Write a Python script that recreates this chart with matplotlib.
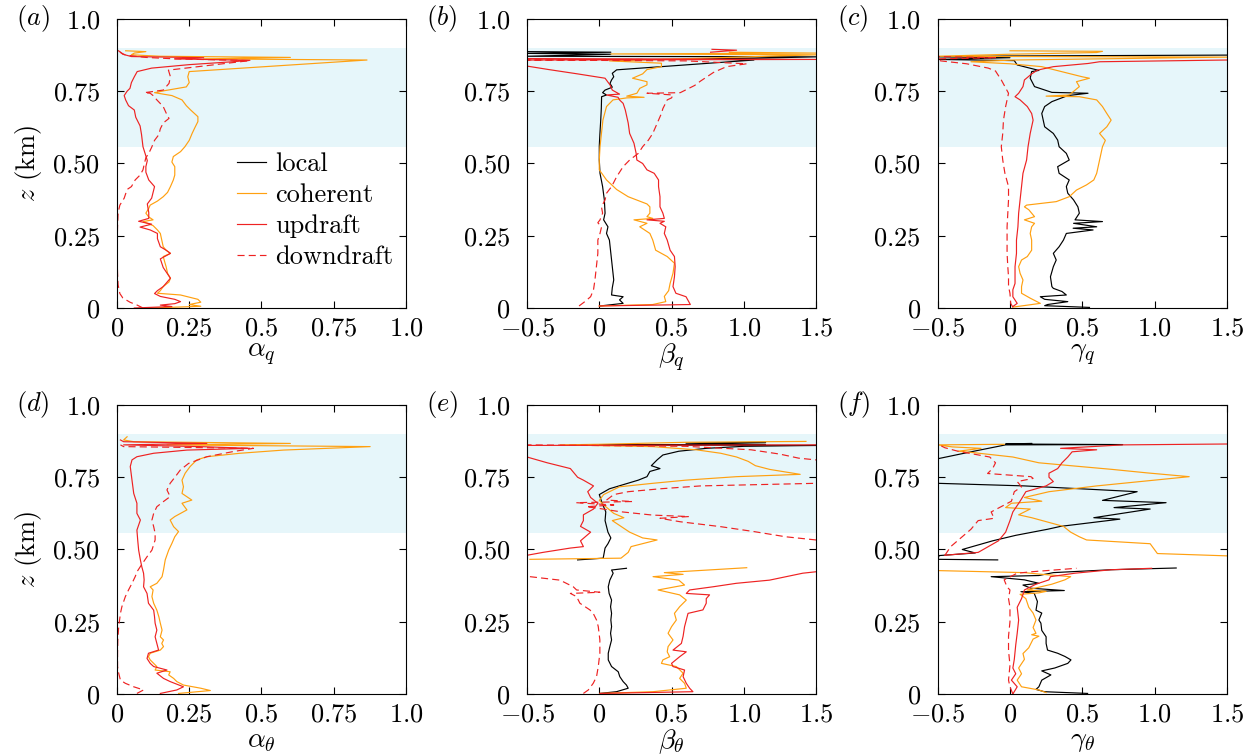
import numpy as np
import matplotlib.pyplot as plt
from matplotlib.lines import Line2D

plt.rcParams['font.family'] = 'serif'
plt.rcParams['font.serif'] = ['cmr10']
plt.rcParams['mathtext.fontset'] = 'cm'
plt.rcParams['axes.unicode_minus'] = False

# profiles as (z [km], value) pairs, (None, None) = gap in the data

# (a) alpha_q
aq_coh = [(0.0, 0.12), (0.006, 0.29), (0.012, 0.25), (0.02, 0.29), (0.03, 0.28), (0.04, 0.24), (0.045, 0.22),
          (0.051, 0.14), (0.06, 0.15), (0.074, 0.16), (0.09, 0.18), (0.103, 0.185), (0.12, 0.175), (0.143, 0.17),
          (0.16, 0.165), (0.178, 0.16), (0.189, 0.185), (0.2, 0.17), (0.212, 0.16), (0.235, 0.155), (0.258, 0.15),
          (0.27, 0.14), (0.285, 0.125), (0.299, 0.09), (0.305, 0.125), (0.315, 0.11), (0.328, 0.1), (0.345, 0.11),
          (0.356, 0.115), (0.37, 0.14), (0.385, 0.16), (0.4, 0.175), (0.42, 0.185), (0.443, 0.195), (0.46, 0.2),
          (0.489, 0.2), (0.505, 0.19), (0.524, 0.195), (0.541, 0.22), (0.558, 0.235), (0.58, 0.25), (0.604, 0.26),
          (0.625, 0.27), (0.645, 0.28), (0.662, 0.28), (0.685, 0.255), (0.7, 0.24), (0.72, 0.225), (0.735, 0.19),
          (0.745, 0.13), (0.752, 0.165), (0.765, 0.24), (0.78, 0.25), (0.8, 0.245), (0.818, 0.25), (0.858, 0.865),
          (0.862, 0.3), (0.867, 0.6), (0.871, 0.15), (0.876, 0.05), (0.882, 0.06), (0.887, 0.1), (0.89, 0.03)]
aq_up = [(0.0, 0.06), (0.005, 0.19), (0.01, 0.15), (0.015, 0.2), (0.022, 0.22), (0.03, 0.2), (0.04, 0.15),
         (0.05, 0.13), (0.06, 0.14), (0.074, 0.16), (0.103, 0.185), (0.14, 0.16), (0.17, 0.15), (0.189, 0.185),
         (0.2, 0.17), (0.212, 0.15), (0.24, 0.14), (0.258, 0.14), (0.27, 0.115), (0.28, 0.08), (0.29, 0.12),
         (0.3, 0.075), (0.31, 0.11), (0.33, 0.11), (0.36, 0.105), (0.38, 0.12), (0.42, 0.13), (0.443, 0.11),
         (0.47, 0.1), (0.489, 0.1), (0.51, 0.105), (0.558, 0.09), (0.6, 0.085), (0.63, 0.08), (0.66, 0.065),
         (0.685, 0.06), (0.7, 0.04), (0.72, 0.03), (0.735, 0.025), (0.75, 0.035), (0.76, 0.045), (0.78, 0.05),
         (0.8, 0.06), (0.818, 0.07), (0.83, 0.12), (0.842, 0.25), (0.852, 0.4), (0.857, 0.46), (0.862, 0.2),
         (0.866, 0.3), (0.87, 0.05), (0.878, 0.02), (0.887, 0.01), (0.893, 0.0)]
aq_down = [(0.0, 0.09), (0.01, 0.07), (0.02, 0.045), (0.035, 0.02), (0.05, 0.01), (0.08, 0.004), (0.12, 0.002),
           (0.2, 0.0), (0.28, 0.002), (0.33, 0.004), (0.356, 0.01), (0.38, 0.025), (0.41, 0.035), (0.42, 0.05),
           (0.443, 0.063), (0.46, 0.08), (0.478, 0.09), (0.5, 0.095), (0.52, 0.1), (0.535, 0.11), (0.556, 0.12),
           (0.58, 0.13), (0.6, 0.145), (0.62, 0.15), (0.64, 0.16), (0.656, 0.18), (0.675, 0.17), (0.697, 0.16),
           (0.72, 0.138), (0.735, 0.125), (0.743, 0.115), (0.745, 0.095), (0.754, 0.16), (0.777, 0.18),
           (0.8, 0.185), (0.823, 0.178), (0.856, 0.46), (0.862, 0.2), (0.867, 0.1), (0.875, 0.03), (0.885, 0.01)]

# (b) beta_q
bq_loc = [(0.007, 0.005), (0.016, 0.165), (0.028, 0.14), (0.039, 0.165), (0.045, 0.085), (0.07, 0.09),
          (0.097, 0.1), (0.143, 0.09), (0.189, 0.08), (0.235, 0.07), (0.258, 0.05), (0.281, 0.06), (0.305, 0.03),
          (0.328, 0.04), (0.374, 0.035), (0.42, 0.023), (0.466, 0.005), (0.512, 0.0), (0.56, 0.0), (0.6, 0.004),
          (0.65, 0.01), (0.69, 0.014), (0.731, 0.016), (0.737, 0.05), (0.745, 0.023), (0.754, 0.04),
          (0.764, 0.09), (0.777, 0.074), (0.789, 0.085), (0.8, 0.1), (0.812, 0.09), (0.824, 0.12),
          (0.858, 1.07), (0.862, 0.62), (0.864, 1.07), (0.869, 1.5), (0.871, -0.5), (0.878, 0.08),
          (0.881, -0.5), (0.885, 0.08), (0.887, -0.5)]
bq_coh = [(0.007, 0.0), (0.012, 0.37), (0.022, 0.46), (0.04, 0.45), (0.06, 0.48), (0.085, 0.49), (0.12, 0.51),
          (0.155, 0.52), (0.178, 0.47), (0.2, 0.39), (0.235, 0.37), (0.258, 0.35), (0.281, 0.28), (0.293, 0.33),
          (0.305, 0.24), (0.31, 0.37), (0.316, 0.33), (0.328, 0.35), (0.35, 0.35), (0.36, 0.33), (0.385, 0.2),
          (0.41, 0.12), (0.443, 0.05), (0.478, 0.0), (0.512, 0.0), (0.558, 0.005), (0.604, 0.015), (0.65, 0.025),
          (0.697, 0.05), (0.72, 0.095), (0.727, 0.19), (0.729, 0.31), (0.733, 0.19), (0.743, 0.26), (0.76, 0.28),
          (0.772, 0.33), (0.783, 0.33), (0.795, 0.23), (0.81, 0.3), (0.825, 0.33), (0.835, 0.43), (0.847, 0.43),
          (0.855, 0.07), (0.876, 1.5), (0.879, 0.08), (0.882, 1.5), (0.885, 0.9)]
bq_up = [(0.007, 0.0), (0.012, 0.63), (0.039, 0.6), (0.051, 0.53), (0.074, 0.51), (0.108, 0.52), (0.143, 0.525),
         (0.178, 0.52), (0.2, 0.49), (0.235, 0.47), (0.258, 0.45), (0.281, 0.46), (0.293, 0.42), (0.3, 0.45),
         (0.305, 0.33), (0.31, 0.45), (0.328, 0.44), (0.35, 0.42), (0.385, 0.42), (0.42, 0.41), (0.443, 0.41),
         (0.466, 0.38), (0.478, 0.33), (0.5, 0.3), (0.512, 0.26), (0.535, 0.255), (0.57, 0.24), (0.604, 0.21),
         (0.64, 0.2), (0.685, 0.18), (0.708, 0.165), (0.72, 0.14), (0.729, 0.13), (0.737, 0.05), (0.74, 0.14),
         (0.754, 0.09), (0.772, 0.074), (0.795, 0.04), (0.81, -0.15), (0.825, -0.35), (0.837, -0.5),
         (0.858, -0.5), (0.86, 1.5), (0.863, -0.5),
         (None, None),
         (0.885, 0.77), (0.892, 0.95), (0.895, 0.78)]
bq_down = [(0.007, -0.14), (0.022, -0.1), (0.039, -0.06), (0.063, -0.04), (0.097, -0.03), (0.143, -0.02),
           (0.189, -0.01), (0.235, -0.01), (0.258, 0.005), (0.281, 0.016), (0.295, -0.01), (0.305, 0.005),
           (0.328, 0.023), (0.35, 0.015), (0.374, 0.04), (0.397, 0.05), (0.42, 0.085), (0.454, 0.12),
           (0.489, 0.165), (0.512, 0.21), (0.535, 0.27), (0.558, 0.3), (0.581, 0.34), (0.604, 0.37),
           (0.627, 0.39), (0.65, 0.41), (0.673, 0.43), (0.69, 0.44), (0.72, 0.47), (0.727, 0.5), (0.737, 0.51),
           (0.743, 0.33), (0.745, 0.56), (0.77, 0.66), (0.785, 0.7), (0.815, 0.79), (0.835, 0.88),
           (0.845, 1.02), (0.855, 0.6), (0.858, -0.5), (0.86, 0.3)]

# (c) gamma_q
cq_loc = [(0.002, 0.55), (0.008, 0.24), (0.012, 0.26), (0.022, 0.4), (0.03, 0.24), (0.039, 0.21), (0.045, 0.39),
          (0.057, 0.36), (0.068, 0.3), (0.074, 0.29), (0.108, 0.28), (0.143, 0.3), (0.166, 0.32), (0.189, 0.3),
          (0.212, 0.34), (0.235, 0.37), (0.258, 0.39), (0.27, 0.575), (0.276, 0.437), (0.281, 0.6),
          (0.293, 0.44), (0.299, 0.64), (0.305, 0.45), (0.328, 0.48), (0.35, 0.47), (0.374, 0.44), (0.397, 0.4),
          (0.42, 0.39), (0.443, 0.41), (0.466, 0.34), (0.489, 0.33), (0.512, 0.41), (0.535, 0.39),
          (0.558, 0.34), (0.581, 0.33), (0.604, 0.3), (0.627, 0.24), (0.65, 0.23), (0.673, 0.22),
          (0.697, 0.24), (0.714, 0.29), (0.735, 0.4), (0.743, 0.54), (0.746, 0.29), (0.766, 0.17),
          (0.795, 0.14), (0.818, 0.15), (0.822, 0.2), (0.841, 0.05), (0.856, 0.03), (0.86, -0.5),
          (0.866, 0.0), (0.869, -0.5), (0.872, 0.0), (0.875, 1.5)]
cq_coh = [(0.003, 0.02), (0.016, 0.21), (0.034, 0.14), (0.051, 0.08), (0.074, 0.08), (0.097, 0.09),
          (0.12, 0.07), (0.143, 0.06), (0.166, 0.08), (0.178, 0.12), (0.2, 0.15), (0.235, 0.15), (0.258, 0.14),
          (0.281, 0.15), (0.293, 0.17), (0.305, 0.1), (0.316, 0.17), (0.34, 0.13), (0.35, 0.1), (0.356, 0.115),
          (0.368, 0.32), (0.385, 0.41), (0.408, 0.46), (0.426, 0.53), (0.443, 0.58), (0.466, 0.6),
          (0.489, 0.61), (0.512, 0.62), (0.535, 0.63), (0.558, 0.64), (0.58, 0.66), (0.604, 0.62),
          (0.627, 0.67), (0.65, 0.7), (0.673, 0.67), (0.697, 0.64), (0.72, 0.6), (0.731, 0.48), (0.733, 0.25),
          (0.737, 0.41), (0.766, 0.48), (0.783, 0.46), (0.795, 0.55), (0.8, 0.5), (0.835, 0.22), (0.845, 0.0),
          (0.852, -0.27), (0.858, 0.03), (0.868, 1.5), (0.871, -0.5), (0.878, 0.0), (0.884, 0.6),
          (0.888, 0.64), (0.89, 0.0)]
cq_up = [(0.005, 0.02), (0.016, 0.05), (0.039, 0.02), (0.063, 0.02), (0.085, 0.035), (0.143, 0.035),
         (0.189, 0.045), (0.235, 0.045), (0.281, 0.055), (0.328, 0.06), (0.374, 0.07), (0.42, 0.08),
         (0.466, 0.09), (0.512, 0.115), (0.558, 0.125), (0.604, 0.14), (0.65, 0.16), (0.673, 0.15),
         (0.697, 0.12), (0.72, 0.07), (0.731, 0.035), (0.743, 0.06), (0.766, 0.09), (0.789, 0.1),
         (0.81, 0.15), (0.823, 0.19), (0.835, 0.3), (0.846, 0.54), (0.852, 0.62), (0.858, 1.5)]
cq_down = [(0.003, 0.02), (0.016, 0.005), (0.051, 0.0), (0.074, -0.01), (0.108, -0.01), (0.143, -0.015),
           (0.189, -0.02), (0.235, -0.02), (0.281, -0.02), (0.328, -0.015), (0.374, -0.01), (0.42, -0.01),
           (0.466, -0.035), (0.512, -0.05), (0.558, -0.06), (0.604, -0.05), (0.65, -0.045), (0.697, -0.03),
           (0.72, -0.02), (0.743, -0.01), (0.766, -0.035), (0.789, -0.06), (0.812, -0.09), (0.82, -0.1),
           (0.83, -0.15), (0.845, -0.3), (0.855, -0.48), (0.862, -0.5), (0.866, -0.1), (0.87, -0.5)]

# (d) alpha_theta
at_coh = [(0.002, 0.213), (0.012, 0.323), (0.02, 0.29), (0.031, 0.23), (0.043, 0.207), (0.054, 0.196),
          (0.066, 0.179), (0.077, 0.184), (0.083, 0.132), (0.095, 0.138), (0.106, 0.127), (0.118, 0.115),
          (0.129, 0.109), (0.141, 0.115), (0.152, 0.15), (0.164, 0.161), (0.175, 0.155), (0.187, 0.161),
          (0.198, 0.15), (0.221, 0.156), (0.245, 0.15), (0.267, 0.145), (0.29, 0.138), (0.314, 0.127),
          (0.337, 0.121), (0.36, 0.125), (0.371, 0.115), (0.383, 0.138), (0.406, 0.156), (0.429, 0.161),
          (0.464, 0.167), (0.498, 0.179), (0.521, 0.19), (0.544, 0.2), (0.562, 0.213), (0.579, 0.196),
          (0.602, 0.184), (0.614, 0.2), (0.637, 0.242), (0.66, 0.225), (0.671, 0.259), (0.694, 0.225),
          (0.717, 0.23), (0.74, 0.225), (0.764, 0.236), (0.787, 0.253), (0.81, 0.276), (0.821, 0.311),
          (0.833, 0.426), (0.844, 0.576), (0.856, 0.876), (0.862, 0.173), (0.867, 0.6), (0.873, 0.058),
          (0.879, 0.023), (0.89, 0.035)]
at_up = [(0.002, 0.15), (0.014, 0.207), (0.025, 0.23), (0.043, 0.184), (0.054, 0.161), (0.072, 0.138),
         (0.083, 0.173), (0.095, 0.127), (0.106, 0.115), (0.123, 0.104), (0.141, 0.109), (0.152, 0.144),
         (0.175, 0.138), (0.198, 0.132), (0.221, 0.138), (0.245, 0.132), (0.267, 0.13), (0.29, 0.127),
         (0.314, 0.109), (0.348, 0.104), (0.371, 0.092), (0.395, 0.094), (0.418, 0.092), (0.44, 0.086),
         (0.464, 0.081), (0.498, 0.075), (0.53, 0.072), (0.567, 0.069), (0.602, 0.081), (0.625, 0.069),
         (0.66, 0.069), (0.694, 0.058), (0.74, 0.052), (0.787, 0.046), (0.81, 0.052), (0.821, 0.069),
         (0.833, 0.127), (0.844, 0.242), (0.85, 0.46), (0.856, 0.288), (0.862, 0.023), (0.867, 0.311),
         (0.873, 0.023), (0.879, 0.012)]
at_down = [(0.002, 0.069), (0.014, 0.092), (0.025, 0.058), (0.037, 0.029), (0.048, 0.012), (0.072, 0.006),
           (0.095, 0.002), (0.141, 0.002), (0.187, 0.003), (0.233, 0.006), (0.279, 0.012), (0.302, 0.017),
           (0.337, 0.029), (0.36, 0.04), (0.383, 0.052), (0.406, 0.063), (0.424, 0.07), (0.441, 0.081),
           (0.475, 0.104), (0.498, 0.121), (0.533, 0.132), (0.556, 0.132), (0.579, 0.127), (0.602, 0.121),
           (0.625, 0.127), (0.648, 0.138), (0.666, 0.161), (0.683, 0.184), (0.706, 0.173), (0.729, 0.184),
           (0.752, 0.202), (0.775, 0.219), (0.798, 0.248), (0.821, 0.311), (0.839, 0.403), (0.85, 0.472),
           (0.856, 0.023), (0.862, 0.012)]

# (e) beta_theta
et_loc = [(0.002, 0.004), (0.008, 0.119), (0.02, 0.2), (0.031, 0.188), (0.043, 0.165), (0.06, 0.142),
          (0.077, 0.131), (0.095, 0.085), (0.118, 0.062), (0.141, 0.062), (0.164, 0.073), (0.187, 0.085),
          (0.21, 0.078), (0.233, 0.085), (0.256, 0.08), (0.279, 0.085), (0.302, 0.078), (0.325, 0.085),
          (0.348, 0.068), (0.371, 0.062), (0.394, 0.073), (0.418, 0.096), (0.429, 0.085), (0.435, 0.188),
          (None, None),
          (0.464, -0.15), (0.47, 0.027), (0.505, 0.04), (0.52, 0.06), (0.54, 0.08), (0.56, 0.06), (0.6, 0.04),
          (0.63, 0.045), (0.66, 0.02), (0.69, 0.0), (0.71, 0.07), (0.725, 0.17), (0.74, 0.27), (0.752, 0.33),
          (0.77, 0.35), (0.78, 0.42), (0.79, 0.36), (0.81, 0.4), (0.827, 0.44), (0.84, 0.55), (0.85, 0.74),
          (0.857, 1.0), (0.86, 1.5), (0.862, 0.0), (0.864, 1.15), (0.868, 0.6), (0.871, 1.15)]
et_coh = [(0.002, 0.004), (0.008, 0.372), (0.02, 0.602), (0.037, 0.59), (0.054, 0.556), (0.072, 0.58),
          (0.095, 0.533), (0.106, 0.43), (0.118, 0.44), (0.129, 0.487), (0.146, 0.47), (0.164, 0.476),
          (0.187, 0.51), (0.21, 0.476), (0.233, 0.5), (0.256, 0.533), (0.279, 0.52), (0.302, 0.556),
          (0.325, 0.602), (0.343, 0.556), (0.36, 0.407), (0.377, 0.59), (0.394, 0.55), (0.406, 0.372),
          (0.414, 0.58), (0.42, 0.45), (0.437, 1.02),
          (None, None),
          (0.466, -0.48), (0.47, 0.15), (0.49, 0.2), (0.51, 0.22), (0.533, 0.4), (0.54, 0.3), (0.56, 0.21),
          (0.58, 0.15), (0.6, 0.09), (0.61, 0.17), (0.625, 0.1), (0.65, 0.04), (0.67, 0.0), (0.69, 0.03),
          (0.717, 0.14), (0.729, 0.37), (0.74, 0.6), (0.752, 0.95), (0.76, 1.39), (0.777, 1.18), (0.79, 1.08),
          (0.805, 1.03), (0.82, 0.95), (0.833, 0.84), (0.845, 0.67), (0.856, 0.37), (0.862, -0.27),
          (0.864, 0.0), (0.871, 0.6), (0.874, 1.43)]
et_up = [(0.002, 0.004), (0.008, 0.648), (0.02, 0.625), (0.037, 0.602), (0.06, 0.58), (0.083, 0.59),
         (0.095, 0.51), (0.106, 0.5), (0.129, 0.556), (0.146, 0.602), (0.152, 0.51), (0.175, 0.568),
         (0.2, 0.58), (0.233, 0.59), (0.256, 0.602), (0.279, 0.614), (0.291, 0.717), (0.314, 0.74),
         (0.33, 0.74), (0.343, 0.763), (0.348, 0.602), (0.36, 0.625), (0.371, 0.787), (0.383, 0.948),
         (0.394, 1.178), (0.418, 1.408), (0.423, 1.5), (0.43, 1.7),
         (None, None),
         (0.474, -0.6), (0.48, -0.5), (0.49, -0.39), (0.505, -0.2), (0.51, -0.11), (0.53, -0.13),
         (0.56, -0.06), (0.58, -0.13), (0.6, -0.11), (0.62, -0.11), (0.64, -0.04), (0.66, -0.01),
         (0.68, -0.06), (0.7, -0.08), (0.72, -0.04), (0.74, -0.11), (0.75, -0.15), (0.78, -0.2),
         (0.8, -0.36), (0.82, -0.5), (0.84, -0.7), (0.86, -0.6), (0.862, 1.5)]
et_down = [(0.002, -0.11), (0.014, -0.076), (0.037, -0.042), (0.06, -0.019), (0.095, -0.007), (0.141, 0.004),
           (0.187, 0.004), (0.233, -0.007), (0.256, -0.019), (0.279, -0.042), (0.291, -0.065),
           (0.314, -0.134), (0.337, -0.157), (0.348, -0.2), (0.352, 0.004), (0.36, -0.157), (0.371, -0.18),
           (0.394, -0.272), (0.406, -0.48), (0.41, -0.6),
           (None, None),
           (0.533, 1.5), (0.544, 1.29), (0.562, 1.07), (0.579, 0.84), (0.596, 0.56), (0.608, 0.42),
           (0.614, 0.62), (0.619, 0.37), (0.631, 0.14), (0.642, 0.0), (0.648, -0.09), (0.654, 0.1),
           (0.662, -0.16), (0.666, 0.23), (0.671, 0.05), (0.69, 0.1), (0.7, 0.2), (0.71, 0.42), (0.72, 0.7),
           (0.729, 1.5), (0.79, 1.7), (0.81, 1.5), (0.816, 1.38), (0.83, 1.25), (0.845, 1.05), (0.857, 0.6),
           (0.862, -0.5)]

# (f) gamma_theta
ft_loc = [(0.002, 0.537), (0.008, 0.237), (0.016, 0.18), (0.025, 0.2), (0.048, 0.22), (0.066, 0.283),
          (0.08, 0.22), (0.09, 0.31), (0.106, 0.4), (0.118, 0.422), (0.13, 0.38), (0.141, 0.33), (0.152, 0.26),
          (0.175, 0.25), (0.198, 0.25), (0.22, 0.22), (0.245, 0.214), (0.256, 0.2), (0.28, 0.22), (0.29, 0.18),
          (0.32, 0.19), (0.348, 0.168), (0.354, 0.076), (0.358, 0.376), (0.366, 0.145), (0.377, 0.09),
          (0.383, 0.2), (0.395, 0.1), (0.406, -0.13), (0.41, 0.2), (0.42, 0.3), (0.43, 0.7), (0.436, 1.15),
          (None, None),
          (0.464, -0.085), (0.466, -0.5), (0.479, -0.49), (0.488, -0.24), (0.5, -0.33), (0.51, -0.26),
          (0.53, -0.12), (0.549, 0.04), (0.57, 0.26), (0.58, 0.35), (0.605, 0.76), (0.61, 0.58),
          (0.64, 0.97), (0.645, 0.72), (0.662, 1.08), (0.67, 0.64), (0.7, 0.88), (0.72, 0.1), (0.729, -0.5),
          (0.77, -0.8), (0.815, -0.49), (0.84, -0.25), (0.862, -0.03), (0.863, 0.78), (0.865, -0.03),
          (0.867, 0.15)]
ft_coh = [(0.005, 0.25), (0.014, 0.2), (0.025, 0.08), (0.048, 0.05), (0.07, 0.08), (0.09, 0.06), (0.12, 0.1),
          (0.14, 0.09), (0.16, 0.13), (0.19, 0.16), (0.2, 0.2), (0.205, 0.15), (0.21, 0.18), (0.23, 0.16),
          (0.256, 0.18), (0.28, 0.16), (0.3, 0.13), (0.33, 0.11), (0.345, 0.07), (0.35, 0.2), (0.355, 0.25),
          (0.36, 0.12), (0.38, 0.29), (0.395, 0.38), (0.406, 0.42), (0.415, 0.2), (0.42, 0.1), (0.427, -0.5),
          (0.43, -0.6),
          (None, None),
          (0.477, 1.6), (0.478, 1.5), (0.486, 1.02), (0.52, 0.97), (0.533, 0.53), (0.544, 0.48), (0.56, 0.42),
          (0.58, 0.37), (0.61, 0.15), (0.62, 0.06), (0.64, 0.14), (0.645, -0.03), (0.66, 0.01), (0.667, 0.22),
          (0.68, 0.1), (0.7, 0.27), (0.72, 0.6), (0.735, 0.9), (0.752, 1.24), (0.765, 0.95), (0.777, 0.71),
          (0.79, 0.42), (0.8, 0.2), (0.82, 0.02), (0.835, -0.25), (0.84, -0.36), (0.85, -0.2), (0.855, -0.4),
          (0.862, -0.5), (0.864, -0.04)]
ft_up = [(0.0, 0.02), (0.025, 0.05), (0.048, 0.01), (0.07, 0.04), (0.09, 0.02), (0.12, 0.03), (0.17, 0.04),
         (0.21, 0.05), (0.256, 0.06), (0.3, 0.05), (0.33, 0.08), (0.36, 0.1), (0.38, 0.18), (0.395, 0.27),
         (0.406, 0.28), (0.418, 0.45), (0.43, 0.7), (0.435, 0.98),
         (None, None),
         (0.48, -0.45), (0.49, -0.22), (0.51, -0.15), (0.53, -0.08), (0.56, -0.03), (0.6, 0.0), (0.63, 0.02),
         (0.667, 0.07), (0.7, 0.11), (0.72, 0.25), (0.735, 0.3), (0.75, 0.27), (0.764, 0.27), (0.78, 0.33),
         (0.8, 0.36), (0.82, 0.4), (0.838, 0.43), (0.845, 0.6), (0.85, 0.35), (0.862, 0.78), (0.865, 1.5)]
ft_down = [(0.0, 0.02), (0.025, 0.0), (0.048, -0.01), (0.1, 0.0), (0.15, -0.01), (0.2, -0.01), (0.25, 0.0),
           (0.3, 0.0), (0.33, -0.01), (0.36, 0.0), (0.37, -0.02), (0.395, -0.04), (0.418, 0.05),
           (0.423, 0.15), (0.435, 0.46),
           (None, None),
           (0.48, -0.45), (0.51, -0.41), (0.54, -0.34), (0.57, -0.27), (0.6, -0.22), (0.608, -0.11),
           (0.63, -0.13), (0.667, 0.01), (0.7, 0.03), (0.717, 0.08), (0.735, 0.05), (0.746, 0.16),
           (0.752, 0.145), (0.763, -0.155), (0.78, -0.12), (0.8, -0.1), (0.82, -0.14), (0.84, -0.36),
           (0.852, -0.45), (0.862, -0.49)]

names = ['local', 'coherent', 'updraft', 'downdraft']
colors = ['black', '#ffa010', '#ee2222', '#ee2222']
band = (0.558, 0.898)

ticks_a = [0, 0.25, 0.5, 0.75, 1.0]
labels_a = ['0', '0.25', '0.5', '0.75', '1.0']
ticks_b = [-0.5, 0, 0.5, 1.0, 1.5]
labels_b = ['-0.5', '0', '0.5', '1.0', '1.5']
zticks = [0, 0.25, 0.5, 0.75, 1.0]
zlabels = ['0', '0.25', '0.50', '0.75', '1.0']

panels = [
    ('a', r'$\alpha_q$', (0, 1), ticks_a, labels_a, [None, aq_coh, aq_up, aq_down]),
    ('b', r'$\beta_q$', (-0.5, 1.5), ticks_b, labels_b, [bq_loc, bq_coh, bq_up, bq_down]),
    ('c', r'$\gamma_q$', (-0.5, 1.5), ticks_b, labels_b, [cq_loc, cq_coh, cq_up, cq_down]),
    ('d', r'$\alpha_\theta$', (0, 1), ticks_a, labels_a, [None, at_coh, at_up, at_down]),
    ('e', r'$\beta_\theta$', (-0.5, 1.5), ticks_b, labels_b, [et_loc, et_coh, et_up, et_down]),
    ('f', r'$\gamma_\theta$', (-0.5, 1.5), ticks_b, labels_b, [ft_loc, ft_coh, ft_up, ft_down]),
]

fig = plt.figure(figsize=(12.59, 7.56), dpi=100)
lefts = [0.0929, 0.4186, 0.7448]
bottoms = [0.5926, 0.0820]
w, h = 0.2296, 0.3823

for i, (tag, xlab, xlim, xt, xtl, series) in enumerate(panels):
    ax = fig.add_axes([lefts[i % 3], bottoms[i // 3], w, h])
    ax.axhspan(band[0], band[1], color='#e6f6fa', lw=0, zorder=0)
    for k, prof in enumerate(series):
        if prof is None:
            continue
        arr = np.array(prof, dtype=float)
        ls = (0, (6, 3.5)) if k == 3 else '-'
        ax.plot(arr[:, 1], arr[:, 0], color=colors[k], ls=ls, lw=0.85)
    ax.set_xlim(xlim)
    ax.set_ylim(0, 1)
    ax.set_xticks(xt)
    ax.set_xticklabels(['$' + s + '$' for s in xtl])
    ax.set_yticks(zticks)
    ax.set_yticklabels(['$' + s + '$' for s in zlabels])
    ax.tick_params(direction='in', top=True, right=True, length=5, width=0.8, labelsize=19)
    ax.tick_params(axis='y', pad=12)
    ax.tick_params(axis='x', pad=6)
    ax.set_xlabel(xlab, fontsize=20, labelpad=1)
    if i % 3 == 0:
        ax.set_ylabel(r'$z$ (km)', fontsize=19, labelpad=6)
    ax.text(-0.35, 1.0, '$(' + tag + ')$', transform=ax.transAxes, fontsize=19, ha='left', va='center')
    if tag == 'a':
        handles = [Line2D([], [], color=colors[k], lw=0.85, ls=(0, (6, 3.5)) if k == 3 else '-')
                   for k in range(4)]
        ax.legend(handles, names, loc='upper left', bbox_to_anchor=(0.37, 0.585), frameon=False,
                  fontsize=19, handlelength=1.1, handletextpad=0.35, labelspacing=0.28, borderpad=0)

fig.savefig('out.png', dpi=100)
